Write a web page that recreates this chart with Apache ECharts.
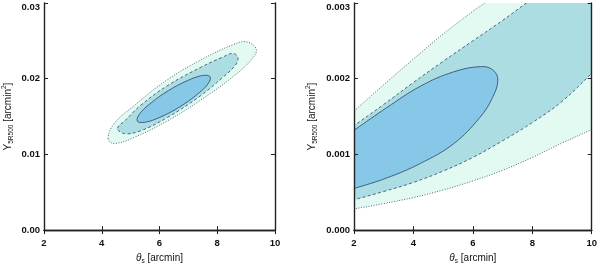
<!DOCTYPE html>
<html><head><meta charset="utf-8">
<script src="https://cdn.jsdelivr.net/npm/echarts@6/dist/echarts.min.js"></script>
<style>html,body{margin:0;padding:0;background:#fff}#c{width:600px;height:270px}</style>
</head><body><div id="c"></div>
<script>
// ---- data ----
const xTicks = [2, 4, 6, 8, 10];
const leftYTicks = [0, 0.01, 0.02, 0.03];
const rightYTicks = [0, 0.001, 0.002, 0.003];

// left panel: closed contours [theta_s, Y]
const leftOuter = [[4.22,0.01207],[4.41,0.01397],[5.11,0.01642],[6.27,0.01985],[7.41,0.02244],[8.56,0.02451],[9.02,0.02487],[9.35,0.02392],[9.21,0.02263],[8.56,0.02030],[7.41,0.01713],[6.27,0.01442],[5.11,0.01222],[4.42,0.01144]];
const leftMid = [[4.55,0.01345],[4.81,0.01448],[5.35,0.01649],[6.27,0.01907],[7.41,0.02147],[8.17,0.02282],[8.55,0.02334],[8.72,0.02270],[8.60,0.02166],[8.17,0.02011],[7.41,0.01772],[6.27,0.01487],[5.35,0.01313],[4.79,0.01274]];
const leftInner = [[7.75,0.02026],[7.49,0.02042],[6.97,0.01975],[6.31,0.01843],[5.71,0.01681],[5.31,0.01534],[5.23,0.01440],[5.49,0.01424],[6.02,0.01491],[6.68,0.01623],[7.28,0.01785],[7.68,0.01932]];

// right panel: contour edges (they run out of the frame)
const rightOuterUpper = [[1.8,0.00150],[2,0.00157],[3,0.00192],[4,0.00226],[5,0.00259],[6,0.00289],[6.4,0.00300],[7,0.00317],[7.7,0.00338]];
const rightOuterLower = [[1.8,0.00027],[2,0.00028],[3,0.00035],[4,0.00043],[5,0.00053],[6,0.00065],[7,0.00079],[8,0.00096],[9,0.00115],[10,0.00133],[10.4,0.00142]];
const rightOuterBeyond = [[11.5,0.0040],[11.5,0.00152]];
const rightMidUpper = [[1.8,0.00133],[2,0.00138],[3,0.00166],[4,0.00195],[5,0.00223],[6,0.00250],[7,0.00277],[7.8,0.00300],[8.5,0.00320],[9.2,0.00340]];
const rightMidLower = [[1.8,0.00038],[2,0.00040],[3,0.00051],[4,0.00063],[5,0.00078],[6,0.00096],[7,0.00118],[8,0.00142],[9,0.00170],[10,0.00207],[10.4,0.00222]];
const rightMidBeyond = [[11.5,0.0042],[11.5,0.00262]];
const rightLeftClose = [[1.2,0.0009]];
const rightInner = [[1.6,0.00051],[2,0.00055],[3.11,0.00069],[4.23,0.00088],[5.35,0.00114],[6.24,0.00149],[6.66,0.00175],[6.84,0.00198],[6.69,0.00211],[6.3,0.00216],[5.35,0.00209],[4.23,0.00190],[3.11,0.00162],[2,0.00132],[1.6,0.00122],[1.2,0.0009]];

// ---- styles ----
const FONT = 'Liberation Sans';
const INK = '#111';
const LINE = '#2b4560';
const C_OUT = '#e2faf2', C_MID = '#acdde3', C_IN = '#87c8e8';
const DOT = [1, 1.6], DASH = [3, 2.4];

const rightOuter = rightOuterUpper.concat(rightOuterBeyond, rightOuterLower.slice().reverse(), rightLeftClose);
const rightMid = rightMidUpper.concat(rightMidBeyond, rightMidLower.slice().reverse(), rightLeftClose);

function contour(xi, yi, pts, fill, dash, z) {
  return {
    type: 'custom', xAxisIndex: xi, yAxisIndex: yi, clip: true, silent: true, z: z,
    data: [pts[0]],
    renderItem: function (params, api) {
      return {
        type: 'polygon',
        shape: { points: pts.map(function (p) { return api.coord(p); }), smooth: 0.4 },
        style: { fill: fill, stroke: LINE, lineWidth: 0.8, lineDash: dash }
      };
    }
  };
}

const frame = { show: true, lineStyle: { color: '#222', width: 1.4 } };
const ticks = { show: true, inside: true, length: 4, lineStyle: { color: '#222', width: 1 } };
const lbl = { color: INK, fontFamily: FONT, fontSize: 9.5, fontWeight: 'bold' };

const xName = '{t|θ}{s|s}{n| [arcmin]}';
const yName = '{n|Y}{s|5R500}{n| [arcmin}{p|2}{n|]}';
const nameRich = {
  n: { fontSize: 10, fontFamily: FONT, color: INK, lineHeight: 14 },
  t: { fontSize: 10, fontFamily: FONT, color: INK, lineHeight: 14, fontStyle: 'italic' },
  s: { fontSize: 6.5, fontFamily: FONT, color: INK, lineHeight: 6, verticalAlign: 'bottom' },
  p: { fontSize: 6.5, fontFamily: FONT, color: INK, lineHeight: 7, verticalAlign: 'top' }
};

function xAxes(grid) {
  const base = { type: 'value', gridIndex: grid, min: xTicks[0], max: xTicks[xTicks.length - 1],
    interval: xTicks[1] - xTicks[0], axisLine: frame, axisTick: ticks, splitLine: { show: false }, z: 5 };
  return [
    Object.assign({}, base, { position: 'bottom',
      axisLabel: Object.assign({ margin: 8 }, lbl),
      name: xName, nameLocation: 'middle', nameGap: 18, nameTextStyle: { rich: nameRich } }),
    Object.assign({}, base, { position: 'top', axisLabel: { show: false } })
  ];
}
function yAxes(grid, ticksArr, dec, gap) {
  const top = ticksArr[ticksArr.length - 1];
  const base = { type: 'value', gridIndex: grid, min: ticksArr[0], max: top,
    interval: ticksArr[1] - ticksArr[0], axisLine: frame, axisTick: ticks, splitLine: { show: false }, z: 5 };
  return [
    Object.assign({}, base, { position: 'left',
      axisLabel: Object.assign({ margin: 4,
        formatter: function (v) { return Math.abs(v - top) < 1e-9 ? '{t|' + v.toFixed(dec) + '}' : v.toFixed(dec); },
        rich: { t: Object.assign({ padding: [8, 0, 0, 0] }, lbl) } }, lbl),
      name: yName, nameLocation: 'middle', nameRotate: 90, nameGap: gap, nameTextStyle: { rich: nameRich } }),
    Object.assign({}, base, { position: 'right', axisLabel: { show: false } })
  ];
}

const chart = echarts.init(document.getElementById('c'), null, { renderer: 'canvas' });
chart.setOption({
  animation: false,
  backgroundColor: '#fff',
  grid: [
    { left: 43, top: 3, width: 232, height: 232 },
    { left: 354, top: 3, width: 239, height: 232 }
  ],
  xAxis: xAxes(0).concat(xAxes(1)),
  yAxis: yAxes(0, leftYTicks, 2, 29).concat(yAxes(1, rightYTicks, 3, 35)),
  series: [
    contour(0, 0, leftOuter, C_OUT, DOT, 2),
    contour(0, 0, leftMid, C_MID, DASH, 3),
    contour(0, 0, leftInner, C_IN, null, 4),
    contour(2, 2, rightOuter, C_OUT, DOT, 2),
    contour(2, 2, rightMid, C_MID, DASH, 3),
    contour(2, 2, rightInner, C_IN, null, 4)
  ]
});
</script>
</body></html>
